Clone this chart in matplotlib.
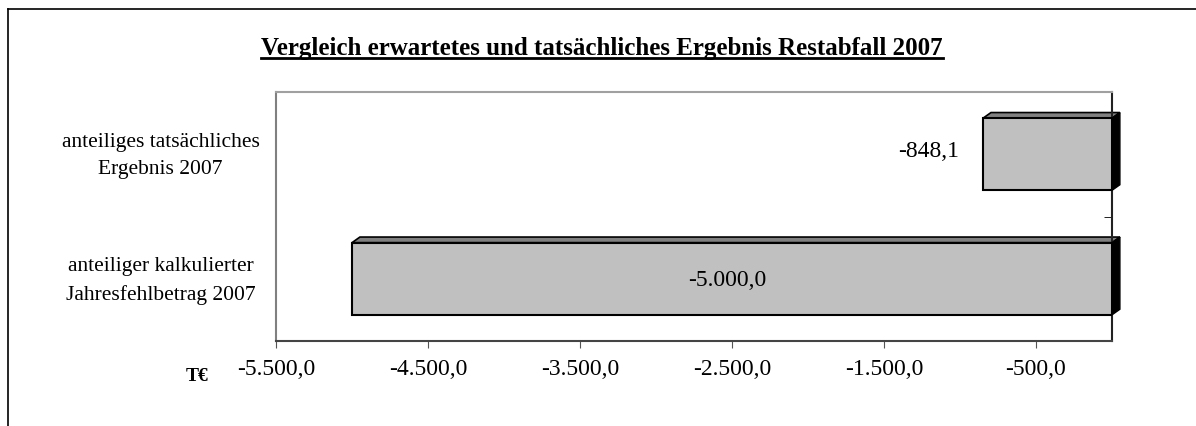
import matplotlib
matplotlib.use("Agg")
import matplotlib.pyplot as plt
import matplotlib.transforms as mtransforms
from matplotlib.patches import Polygon
from matplotlib.lines import Line2D

# data
categories = ["anteiliger kalkulierter\nJahresfehlbetrag 2007",
              "anteiliges tatsächliches\nErgebnis 2007"]
values = [-5000.0, -848.1]
value_labels = ["-5.000,0", "-848,1"]
xticks = [-5500, -4500, -3500, -2500, -1500, -500]
xtick_labels = ["-5.500,0", "-4.500,0", "-3.500,0", "-2.500,0", "-1.500,0", "-500,0"]
title = "Vergleich erwartetes und tatsächliches Ergebnis Restabfall 2007"

plt.rcParams['font.family'] = ['Liberation Serif', 'DejaVu Serif']

fig = plt.figure(figsize=(11.96, 4.27), dpi=100)
W, H = 1196, 427
# plot area in pixels: left 276, right 1112, top 93, bottom 342
ax = fig.add_axes([276 / W, 1 - 342 / H, (1112 - 276) / W, (342 - 93) / H])

bar_h = 0.58
ypos = list(range(len(values)))
ax.barh(ypos, values, height=bar_h, color="#c0c0c0", edgecolor="black",
        linewidth=1.5, zorder=3)

# 3d depth of the bars (data units)
dx, dy = 52, 0.045
for y, v in zip(ypos, values):
    top = y + bar_h / 2
    bot = y - bar_h / 2
    top_face = Polygon([(v, top), (v + dx, top + dy), (dx, top + dy), (0, top)],
                       closed=True, facecolor="#808080", edgecolor="black",
                       linewidth=1.2, zorder=2, clip_on=False)
    side_face = Polygon([(0, bot), (dx, bot + dy), (dx, top + dy), (0, top)],
                        closed=True, facecolor="black", edgecolor="black",
                        linewidth=1.0, zorder=4, clip_on=False)
    ax.add_patch(top_face)
    ax.add_patch(side_face)

# value labels
ax.text(values[1] - 155, 1 + 0.03, value_labels[1], ha="right", va="center", fontsize=17)
ax.text(values[0] / 2 - 30, 0 - 0.01, value_labels[0], ha="center", va="center", fontsize=17)

ax.set_xlim(-5500, 0)
ax.set_ylim(-0.5, 1.5)

ax.set_xticks(xticks)
ax.set_xticklabels(xtick_labels, fontsize=17)
ax.tick_params(axis="x", direction="out", length=5, color="#555555", pad=7)

ax.set_yticks(ypos)
ax.set_yticklabels(categories, fontsize=15.5, ha="center", multialignment="center",
                   linespacing=1.6)
ax.tick_params(axis="y", which="major", length=0, pad=83)
# nudge the category labels up a little
shift = mtransforms.ScaledTranslation(0, 6 / 100, fig.dpi_scale_trans)
for lab in ax.get_yticklabels():
    lab.set_transform(lab.get_transform() + shift)
ax.set_yticks([-0.5, 0.5, 1.5], minor=True)
ax.tick_params(axis="y", which="minor", left=False, right=True, direction="in",
               length=6, color="black")

ax.spines["top"].set_color("#a0a0a0")
ax.spines["left"].set_color("#808080")
ax.spines["bottom"].set_color("#444444")
ax.spines["right"].set_color("#222222")
for s in ax.spines.values():
    s.set_linewidth(1.5)

t = fig.text(602 / W, 1 - 49 / H, title, ha="center", va="center",
             fontsize=18, fontweight="bold")
# underline under the title text
fig.canvas.draw()
bb = t.get_window_extent().transformed(fig.transFigure.inverted())
fig.add_artist(Line2D([bb.x0, bb.x1], [1 - 59 / H, 1 - 59 / H],
                      color="black", linewidth=2))

fig.text(197 / W, 1 - 377 / H, "T€", ha="center", va="center",
         fontsize=14, fontweight="bold")

# outer frame
fig.add_artist(Line2D([8 / W, 8 / W], [0, 1 - 10 / H], color="black", linewidth=1.2))
fig.add_artist(Line2D([8 / W, 1], [1 - 10 / H, 1 - 10 / H], color="black", linewidth=1.2))

fig.savefig("out.png", dpi=100)
